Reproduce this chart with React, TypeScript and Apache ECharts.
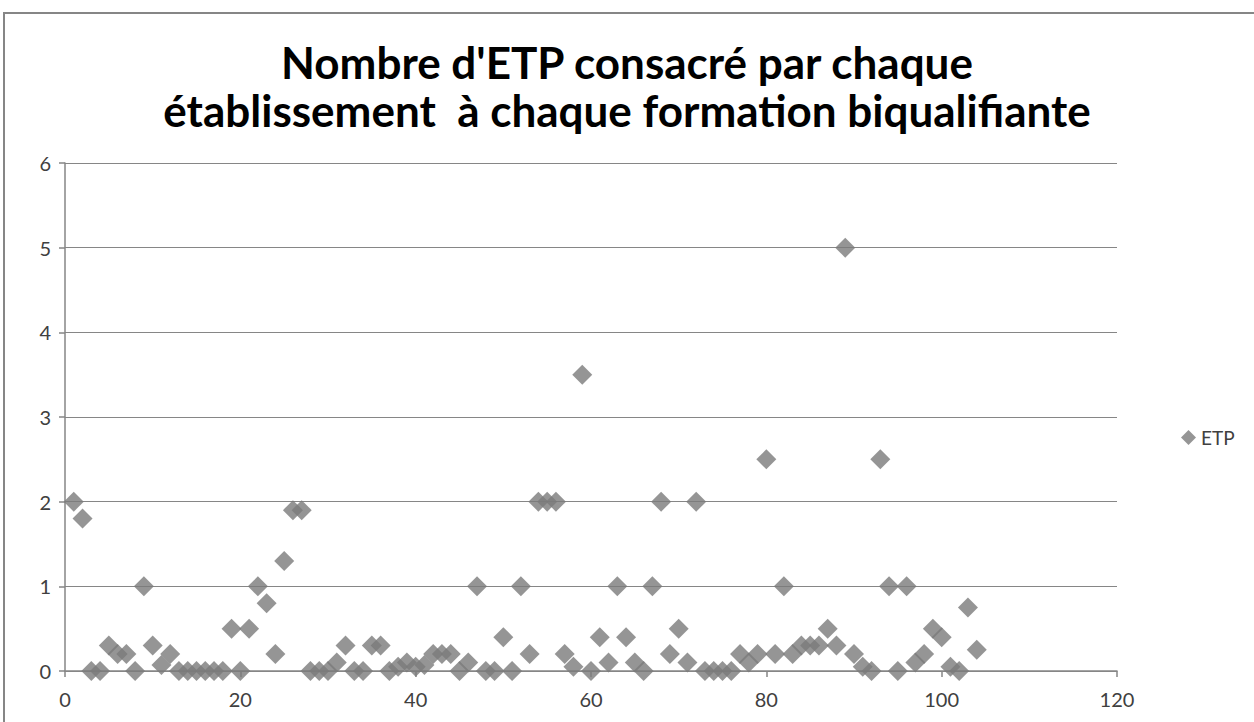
import React, { useEffect, useRef } from "react";
import * as echarts from "echarts";

const titleLines = ["Nombre d'ETP consacré par chaque", "établissement  à chaque formation biqualifiante"];
const seriesName = "ETP";
const xValues = [
  1, 2, 3, 4, 5, 6, 7, 8, 9, 10, 11, 12, 13, 14, 15, 16, 17, 18, 19, 20,
  21, 22, 23, 24, 25, 26, 27, 28, 29, 30, 31, 32, 33, 34, 35, 36, 37, 38, 39, 40,
  41, 42, 43, 44, 45, 46, 47, 48, 49, 50, 51, 52, 53, 54, 55, 56, 57, 58, 59, 60,
  61, 62, 63, 64, 65, 66, 67, 68, 69, 70, 71, 72, 73, 74, 75, 76, 77, 78, 79, 80,
  81, 82, 83, 84, 85, 86, 87, 88, 89, 90, 91, 92, 93, 94, 95, 96, 97, 98, 99, 100,
  101, 102, 103, 104,
];
const etpValues = [
  2, 1.8, 0, 0, 0.3, 0.2, 0.2, 0, 1, 0.3, 0.07, 0.2, 0, 0, 0, 0, 0, 0, 0.5, 0,
  0.5, 1, 0.8, 0.2, 1.3, 1.9, 1.9, 0, 0, 0, 0.1, 0.3, 0, 0, 0.3, 0.3, 0, 0.05, 0.1, 0.05,
  0.07, 0.2, 0.2, 0.2, 0, 0.1, 1, 0, 0, 0.4, 0, 1, 0.2, 2, 2, 2, 0.2, 0.05, 3.5, 0,
  0.4, 0.1, 1, 0.4, 0.1, 0, 1, 2, 0.2, 0.5, 0.1, 2, 0, 0, 0, 0, 0.2, 0.1, 0.2, 2.5,
  0.2, 1, 0.2, 0.3, 0.3, 0.3, 0.5, 0.3, 5, 0.2, 0.05, 0, 2.5, 1, 0, 1, 0.1, 0.2, 0.5, 0.4,
  0.05, 0, 0.75, 0.25,
];
const xMin = 0, xMax = 120, xStep = 20;
const yMin = 0, yMax = 6, yStep = 1;

export default function App() {
  const ref = useRef<HTMLDivElement>(null);
  useEffect(() => {
    if (!ref.current) return;
    const chart = echarts.init(ref.current, null, { renderer: "svg" });
    const axisGray = "#868686";
    const labelColor = "#404040";
    const font = "Lato, 'Open Sans', sans-serif";
    chart.setOption({
      animation: false,
      backgroundColor: "#ffffff",
      title: {
        text: titleLines.join("\n"),
        left: "center",
        top: 33,
        textStyle: { fontFamily: font, fontWeight: "bold", fontSize: 44, lineHeight: 48, color: "#000000" },
      },
      legend: {
        data: [{ name: seriesName, icon: "diamond" }],
        left: 1176,
        top: 423,
        itemWidth: 15,
        itemHeight: 15,
        itemGap: 6,
        textStyle: { fontFamily: font, fontSize: 19, color: labelColor },
      },
      grid: { left: 65, top: 163, width: 1052, height: 508, containLabel: false },
      xAxis: {
        type: "value",
        min: xMin,
        max: xMax,
        interval: xStep,
        axisLine: { show: true, lineStyle: { color: axisGray, width: 1.5 } },
        axisTick: { show: true, inside: false, length: 6, lineStyle: { color: axisGray, width: 1.5 } },
        splitLine: { show: false },
        axisLabel: { fontFamily: font, fontSize: 20, color: labelColor, margin: 18 },
      },
      yAxis: {
        type: "value",
        min: yMin,
        max: yMax,
        interval: yStep,
        axisLine: { show: true, onZero: false, lineStyle: { color: axisGray, width: 1.5 } },
        axisTick: { show: true, inside: false, length: 6, lineStyle: { color: axisGray, width: 1.5 } },
        splitLine: { show: true, lineStyle: { color: axisGray, width: 1.2 } },
        axisLabel: { fontFamily: font, fontSize: 20, color: labelColor, margin: 14 },
      },
      graphic: [
        {
          type: "rect",
          shape: { x: 4, y: 13, width: 1270, height: 730 },
          style: { fill: "none", stroke: axisGray, lineWidth: 2 },
          silent: true,
          z: -1,
        },
      ],
      series: [
        {
          name: seriesName,
          type: "scatter",
          symbol: "diamond",
          symbolSize: 20,
          itemStyle: { color: "#7a7a7a" },
          data: xValues.map((x, i) => [x, etpValues[i]]),
        },
      ],
    });
    return () => chart.dispose();
  }, []);
  return (
    <div
      ref={ref}
      style={{ position: "fixed", left: 0, top: 0, width: 1254, height: 722 }}
    />
  );
}
